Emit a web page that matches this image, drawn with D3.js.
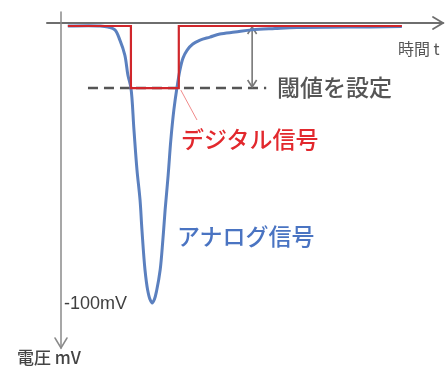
<!DOCTYPE html>
<html><head><meta charset="utf-8">
<script src="https://cdn.jsdelivr.net/npm/d3@7"></script>
<style>
html,body{margin:0;padding:0;background:#fff;}
svg{display:block;filter:blur(0.4px);}
</style></head>
<body>
<svg id="c" width="445" height="369"></svg>
<script>
// time (ms) and voltage (mV)
const analogTime = [0.18,1.03,1.24,1.42,1.55,1.68,1.76,1.84,1.92,2.0,2.08,2.13,2.21,2.28,2.34,2.40,2.46,2.52,2.61,2.68,2.74,2.82,2.89,2.97,3.05,3.13,3.21,3.32,3.47,3.66,3.92,4.18,4.58,5.03,5.63,6.21,7.53,8.97];
const analogMV   = [0,0,-0.4,-1.4,-5.1,-10.5,-17.7,-22.4,-37.5,-52,-62.8,-73.6,-88,-95.3,-98.6,-100,-98.6,-95.3,-88,-77.3,-66.4,-53.8,-41.2,-30.3,-22.4,-15.9,-11.6,-8.7,-6.5,-5.1,-4.0,-2.9,-2.2,-1.4,-0.9,-0.5,-0.4,-0.2];
const digitalTime = [0.18,1.84,1.84,3.10,3.10,8.97];
const digitalMV   = [0,0,-22.4,-22.4,0,0];
const thresholdMV = -22.4;
const thresholdSpan = [0.71,5.4];
const arrowTime = 5.03;
const yTicks = [-100];
const labels = {time:"時間 t", volt:"電圧 mV", thr:"閾値を設定", digital:"デジタル信号", analog:"アナログ信号"};

const svg = d3.select("#c");
const x = d3.scaleLinear().domain([0,10]).range([61,441]);
const y = d3.scaleLinear().domain([0,-100]).range([26,303]);
const jp = "'Noto Sans CJK JP','Noto Sans',sans-serif";

// axes lines with arrows
const ax = svg.append("g").attr("fill","none").attr("stroke-linecap","round");
const yAxisTop = y(0)-3;
ax.append("line").attr("x1",47).attr("x2",443).attr("y1",yAxisTop).attr("y2",yAxisTop)
  .attr("stroke","#6e6e6e").attr("stroke-width",2);
ax.append("path").attr("d",`M433,${yAxisTop-6}L443,${yAxisTop}L433,${yAxisTop+6}`)
  .attr("stroke","#6e6e6e").attr("stroke-width",1.8);
ax.append("line").attr("x1",x(0)).attr("x2",x(0)).attr("y1",12).attr("y2",348)
  .attr("stroke","#8a8a8a").attr("stroke-width",1.5);
ax.append("path").attr("d",`M${x(0)-6},338L${x(0)},348L${x(0)+6},338`)
  .attr("stroke","#8a8a8a").attr("stroke-width",1.5);

// tick label via axis
const ya = svg.append("g").attr("transform",`translate(${x(0)},0)`)
  .call(d3.axisRight(y).tickValues(yTicks).tickSize(0).tickPadding(3).tickFormat(d=>d+"mV"));
ya.select(".domain").remove();
ya.selectAll("text").attr("font-family","'Liberation Sans',Arial,sans-serif").attr("font-size",18).attr("fill","#3f3f3f");

// threshold dashed line
svg.append("line").attr("x1",x(thresholdSpan[0])).attr("x2",x(thresholdSpan[1]))
  .attr("y1",y(thresholdMV)).attr("y2",y(thresholdMV))
  .attr("stroke","#555").attr("stroke-width",2.6).attr("stroke-dasharray","10,6");

// double arrow
const ax2 = x(arrowTime), yA = y(0)+1, yB = y(thresholdMV)-1;
const da = svg.append("g").attr("fill","none").attr("stroke","#777").attr("stroke-width",1.6);
da.append("line").attr("x1",ax2).attr("x2",ax2).attr("y1",yA).attr("y2",yB);
da.append("path").attr("d",`M${ax2-4.5},${yA+7}L${ax2},${yA}L${ax2+4.5},${yA+7}`);
da.append("path").attr("d",`M${ax2-4.5},${yB-7}L${ax2},${yB}L${ax2+4.5},${yB-7}`);

// analog curve
const line = d3.line().x(d=>x(d[0])).y(d=>y(d[1])).curve(d3.curveCatmullRom.alpha(0.5));
svg.append("path").datum(d3.zip(analogTime,analogMV)).attr("d",line)
  .attr("fill","none").attr("stroke","#5b80bf").attr("stroke-width",3).attr("stroke-linejoin","round");

// digital signal
const dline = d3.line().x(d=>x(d[0])).y(d=>y(d[1]));
svg.append("path").datum(d3.zip(digitalTime,digitalMV)).attr("d",dline)
  .attr("fill","none").attr("stroke","#d0262b").attr("stroke-width",2.2);

// leader line
svg.append("line").attr("x1",x(digitalTime[3])+2).attr("y1",y(thresholdMV)+2)
  .attr("x2",197).attr("y2",120).attr("stroke","#f08a8a").attr("stroke-width",1);

// labels
svg.append("text").attr("x",398).attr("y",55).attr("font-family",jp).attr("font-size",16).attr("fill","#555").text(labels.time);
svg.append("text").attr("x",17).attr("y",364).attr("font-family",jp).attr("font-size",17).attr("font-weight",500).attr("fill","#444").text(labels.volt);
svg.append("text").attr("x",277).attr("y",y(thresholdMV)).attr("dy","0.36em").attr("font-family",jp).attr("font-size",23).attr("font-weight",500).attr("fill","#555").text(labels.thr);
svg.append("text").attr("x",181).attr("y",140).attr("dy","0.36em").attr("font-family",jp).attr("font-size",23).attr("font-weight",500).attr("fill","#e2282d").text(labels.digital);
svg.append("text").attr("x",177).attr("y",237).attr("dy","0.36em").attr("font-family",jp).attr("font-size",23).attr("font-weight",500).attr("fill","#4a74c2").text(labels.analog);
</script>
</body></html>
